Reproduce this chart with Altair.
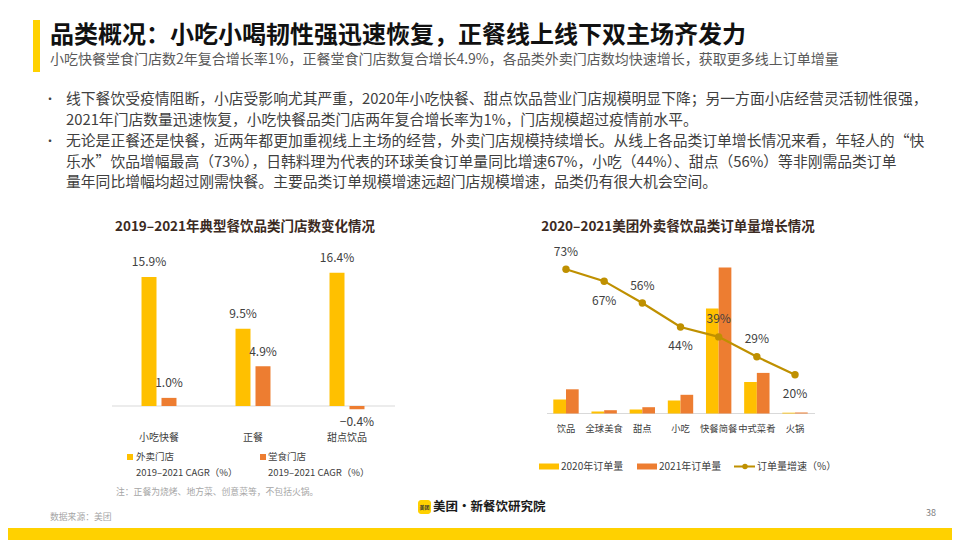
import altair as alt
import pandas as pd

FONT = "Noto Sans CJK SC"
OX, OY = 8, 8
W, H = 944, 532

# ---------------- data ----------------
left_categories = ["小吃快餐", "正餐", "甜点饮品"]
left_series = ["外卖门店", "堂食门店"]
takeout_cagr = [15.9, 9.5, 16.4]
dinein_cagr = [1.0, 4.9, -0.4]

right_categories = ["饮品", "全球美食", "甜点", "小吃", "快餐简餐", "中式菜肴", "火锅"]
right_series = ["2020年订单量", "2021年订单量"]
orders_2020 = [14.0, 2.0, 4.0, 13.0, 105.0, 31.5, 0.8]
orders_2021 = [24.2, 3.3, 6.3, 18.7, 146.0, 40.6, 1.0]
order_growth = [73, 67, 56, 44, 39, 29, 20]
growth_label_side = ["above", "below", "above", "below", "above", "above", "below"]

title_text = "品类概况：小吃小喝韧性强迅速恢复，正餐线上线下双主场齐发力"
subtitle_text = "小吃快餐堂食门店数2年复合增长率1%，正餐堂食门店数复合增长4.9%，各品类外卖门店数均快速增长，获取更多线上订单增量"
bullet1 = [
    "线下餐饮受疫情阻断，小店受影响尤其严重，2020年小吃快餐、甜点饮品营业门店规模明显下降；另一方面小店经营灵活韧性很强，",
    "2021年门店数量迅速恢复，小吃快餐品类门店两年复合增长率为1%，门店规模超过疫情前水平。",
]
bullet2 = [
    "无论是正餐还是快餐，近两年都更加重视线上主场的经营，外卖门店规模持续增长。从线上各品类订单增长情况来看，年轻人的“快",
    "乐水”饮品增幅最高（73%），日韩料理为代表的环球美食订单量同比增速67%，小吃（44%）、甜点（56%）等非刚需品类订单",
    "量年同比增幅均超过刚需快餐。主要品类订单规模增速远超门店规模增速，品类仍有很大机会空间。",
]

YELLOW = "#FFC000"
ORANGE = "#ED7D31"
GOLD = "#BF9000"
BRAND = "#FFD100"
TXT = "#404040"


def P(x):
    return x - OX


def Q(y):
    return y - OY


def text(s, x, y, size, color, weight="normal", align="left"):
    return alt.Chart(alt.Data(values=[{}])).mark_text(
        text=s, font=FONT, fontSize=size, color=color, fontWeight=weight,
        align=align, baseline="middle"
    ).encode(x=alt.value(P(x)), y=alt.value(Q(y)))


def box(x1, x2, y1, y2, color, radius=0):
    return alt.Chart(alt.Data(values=[{}])).mark_rect(color=color, cornerRadius=radius).encode(
        x=alt.value(P(x1)), x2=alt.value(P(x2)), y=alt.value(Q(y1)), y2=alt.value(Q(y2))
    )


def hline(x1, x2, y, color, width=1):
    return alt.Chart(alt.Data(values=[{}])).mark_rule(color=color, strokeWidth=width).encode(
        x=alt.value(P(x1)), x2=alt.value(P(x2)), y=alt.value(Q(y))
    )


# ---------------- header / text ----------------
layers = [
    box(33, 40, 20, 72, BRAND),
    text(title_text, 50, 36, 24, "#111111", "bold"),
    text(subtitle_text, 50, 60, 14, "#595959"),
    text("•", 44, 100, 12, TXT),
    text("•", 44, 142, 12, TXT),
]
for i, line in enumerate(bullet1):
    layers.append(text(line, 66, 100 + 21 * i, 14.8, TXT))
for i, line in enumerate(bullet2):
    layers.append(text(line, 66, 142 + 20.7 * i, 14.8, TXT))

layers += [
    text("2019–2021年典型餐饮品类门店数变化情况", 245, 227, 13.5, "#3b2a22", "bold", "center"),
    text("2020–2021美团外卖餐饮品类订单量增长情况", 678, 227, 13.5, "#3b2a22", "bold", "center"),
]

# ---------------- left chart ----------------
left_df = pd.DataFrame({
    "category": left_categories * 2,
    "series": [s for s in left_series for _ in left_categories],
    "value": takeout_cagr + dinein_cagr,
})
left_df["label"] = [f"{v:.1f}%".replace("-", "−") for v in left_df["value"]]

xl = alt.X("category:N", sort=left_categories, axis=None,
           scale=alt.Scale(type="band", domain=left_categories, range=[P(112), P(394)],
                           paddingInner=0.628, paddingOuter=0.314))
xol = alt.XOffset("series:N", sort=left_series,
                  scale=alt.Scale(domain=left_series, paddingInner=0.25, paddingOuter=0))
yl = alt.Y("value:Q", axis=None,
           scale=alt.Scale(domain=[0, 17], range=[Q(406), Q(406 - 17 * 8.12)], nice=False, zero=False))
cl = alt.Color("series:N", legend=None, scale=alt.Scale(domain=left_series, range=[YELLOW, ORANGE]))

base_l = alt.Chart(left_df)
left = alt.layer(
    hline(112, 395, 406, "#d9d9d9", 1),
    base_l.mark_bar().encode(x=xl, xOffset=xol, y=yl, color=cl),
    base_l.transform_filter("datum.value >= 0").mark_text(
        dy=-14.5, font=FONT, fontSize=12, color=TXT, baseline="middle"
    ).encode(x=xl, xOffset=xol, y=yl, text="label:N"),
    base_l.transform_filter("datum.value < 0").mark_text(
        dy=13, font=FONT, fontSize=12, color=TXT, baseline="middle"
    ).encode(x=xl, xOffset=xol, y=yl, text="label:N"),
    alt.Chart(pd.DataFrame({"category": left_categories})).mark_text(
        font=FONT, fontSize=10, color=TXT, baseline="middle"
    ).encode(x=xl, y=alt.value(Q(438)), text="category:N"),
)

layers += [
    left,
    box(127, 133, 454, 460, YELLOW),
    text("外卖门店", 136, 457, 9.5, TXT),
    text("2019–2021 CAGR（%）", 136, 473, 9.5, TXT),
    box(260, 266, 454, 460, ORANGE),
    text("堂食门店", 268, 457, 9.5, TXT),
    text("2019–2021 CAGR（%）", 268, 473, 9.5, TXT),
    text("注：正餐为烧烤、地方菜、创意菜等，不包括火锅。", 116, 492, 8.8, "#a6a6a6"),
]

# ---------------- right chart ----------------
right_df = pd.DataFrame({
    "category": right_categories * 2,
    "series": [s for s in right_series for _ in right_categories],
    "value": orders_2020 + orders_2021,
})
growth_df = pd.DataFrame({"category": right_categories, "growth": order_growth, "side": growth_label_side})
growth_df["label"] = [f"{g}%" for g in order_growth]

xr = alt.X("category:N", sort=right_categories, axis=None,
           scale=alt.Scale(type="band", domain=right_categories, range=[P(547), P(814)],
                           paddingInner=0.335, paddingOuter=0.165))
xor = alt.XOffset("series:N", sort=right_series,
                  scale=alt.Scale(domain=right_series, paddingInner=0, paddingOuter=0))
yr = alt.Y("value:Q", axis=None,
           scale=alt.Scale(domain=[0, 150], range=[Q(413.5), Q(263.5)], nice=False, zero=False))
cr = alt.Color("series:N", legend=None, scale=alt.Scale(domain=right_series, range=[YELLOW, ORANGE]))
yg = alt.Y("growth:Q", axis=None,
           scale=alt.Scale(domain=[0, 75], range=[Q(414.5), Q(414.5 - 75 * 1.99)], nice=False, zero=False))

base_g = alt.Chart(growth_df)
right = alt.layer(
    hline(547, 815, 413.5, "#d9d9d9", 1),
    alt.Chart(right_df).mark_bar().encode(x=xr, xOffset=xor, y=yr, color=cr),
    base_g.mark_line(color=GOLD, strokeWidth=2.2).encode(x=xr, y=yg),
    base_g.mark_point(filled=True, size=55, color=GOLD, opacity=1).encode(x=xr, y=yg),
    base_g.transform_filter("datum.side == 'above'").mark_text(
        dy=-17.5, font=FONT, fontSize=12, color=TXT, baseline="middle"
    ).encode(x=xr, y=yg, text="label:N"),
    base_g.transform_filter("datum.side == 'below'").mark_text(
        dy=19.5, font=FONT, fontSize=12, color=TXT, baseline="middle"
    ).encode(x=xr, y=yg, text="label:N"),
    alt.Chart(pd.DataFrame({"category": right_categories})).mark_text(
        font=FONT, fontSize=9.3, color=TXT, baseline="middle"
    ).encode(x=xr, y=alt.value(Q(428.5)), text="category:N"),
).resolve_scale(y="independent")

layers += [
    right,
    box(539, 559, 463.5, 469.5, YELLOW),
    text("2020年订单量", 561, 466.5, 10, TXT),
    box(637, 657, 463.5, 469.5, ORANGE),
    text("2021年订单量", 659, 466.5, 10, TXT),
    hline(734, 755, 466.5, GOLD, 2),
    alt.Chart(alt.Data(values=[{}])).mark_point(filled=True, size=30, color=GOLD, opacity=1).encode(
        x=alt.value(P(745)), y=alt.value(Q(466.5))),
    text("订单量增速（%）", 757, 466.5, 10, TXT),
]

# ---------------- footer ----------------
layers += [
    text("数据来源：美团", 50, 517, 8.8, "#a6a6a6"),
    box(418, 431, 500, 514, BRAND, 3),
    text("美团", 424.5, 507, 5, "#333333", "bold", "center"),
    text("美团·新餐饮研究院", 433, 507, 12.5, "#1a1a1a", "bold"),
    text("38", 931, 513, 9, "#808080", "normal", "center"),
    box(8, 952, 528, 540, BRAND),
]

chart = alt.layer(*layers).resolve_scale(
    x="independent", y="independent", color="independent", xOffset="independent"
).properties(
    width=W, height=H, padding=0, background="white",
    autosize=alt.AutoSizeParams(type="none"),
).configure_view(stroke=None)

chart.save("out.html", embed_options={"renderer": "svg", "actions": False})
